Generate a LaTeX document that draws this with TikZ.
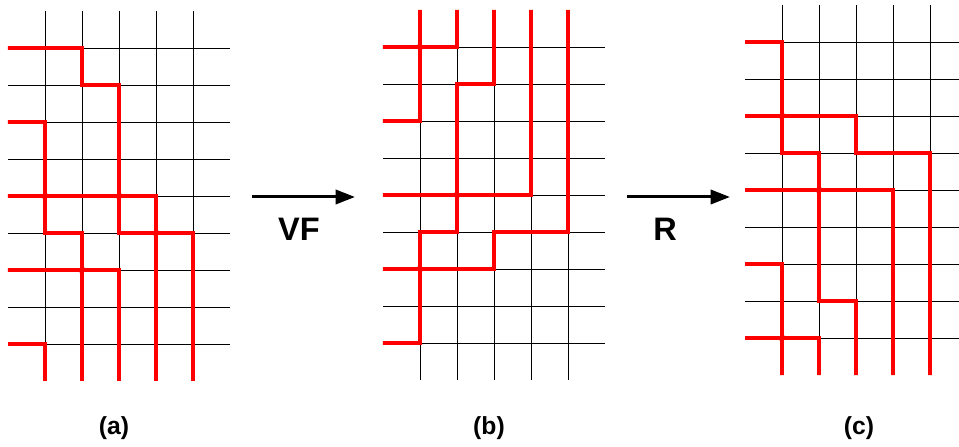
\documentclass[tikz,border=0pt]{standalone}
\usepackage{fontspec}
\setsansfont{Liberation Sans}
\usetikzlibrary{arrows.meta}
\tikzset{
  gridline/.style={black,line width=0.6pt},
  pipe/.style={red,line width=3pt},
  opname/.style={font=\fontsize{25}{28}\selectfont\sffamily\bfseries},
  panelname/.style={font=\fontsize{19}{22}\selectfont\sffamily\bfseries},
  flow/.style={-{Triangle[length=15pt,width=11pt]},line width=2.3pt}
}
\begin{document}
\begin{tikzpicture}
  \useasboundingbox (0,0) rectangle (25.919,-12.054);
  % (a)
  \begin{scope}[shift={(0.216,-0.297)}]
    \foreach \c in {1,...,5} \draw[gridline] (\c,0) -- (\c,-10);
    \foreach \r in {1,...,9} \draw[gridline] (0,-\r) -- (6,-\r);
    \draw[pipe] (0,-1) -- (2,-1) -- (2,-2) -- (3,-2) -- (3,-4.87) .. controls (3,-5) .. (3.13,-5) -- (4,-5) -- (4,-5.87) .. controls (4,-6) .. (4.13,-6) -- (5,-6) -- (5,-10);
    \draw[pipe] (0,-3) -- (1,-3) -- (1,-4.87) .. controls (1,-5) .. (1.13,-5) -- (2.87,-5) .. controls (3,-5) .. (3,-5.13) -- (3,-6) -- (3.87,-6) .. controls (4,-6) .. (4,-6.13) -- (4,-10);
    \draw[pipe] (0,-5) -- (0.87,-5) .. controls (1,-5) .. (1,-5.13) -- (1,-6) -- (2,-6) -- (2,-6.87) .. controls (2,-7) .. (2.13,-7) -- (3,-7) -- (3,-10);
    \draw[pipe] (0,-7) -- (1.87,-7) .. controls (2,-7) .. (2,-7.13) -- (2,-10);
    \draw[pipe] (0,-9) -- (1,-9) -- (1,-10);
  \end{scope}
  % (b)
  \begin{scope}[shift={(10.351,-0.270)}]
    \foreach \c in {1,...,5} \draw[gridline] (\c,0) -- (\c,-10);
    \foreach \r in {1,...,9} \draw[gridline] (0,-\r) -- (6,-\r);
    \draw[pipe] (0,-1) -- (0.87,-1) .. controls (1,-1) .. (1,-0.87) -- (1,0);
    \draw[pipe] (0,-3) -- (1,-3) -- (1,-1.13) .. controls (1,-1) .. (1.13,-1) -- (2,-1) -- (2,0);
    \draw[pipe] (0,-5) -- (1.87,-5) .. controls (2,-5) .. (2,-4.87) -- (2,-2) -- (3,-2) -- (3,0);
    \draw[pipe] (0,-7) -- (0.87,-7) .. controls (1,-7) .. (1,-6.87) -- (1,-6) -- (2,-6) -- (2,-5.13) .. controls (2,-5) .. (2.13,-5) -- (4,-5) -- (4,0);
    \draw[pipe] (0,-9) -- (1,-9) -- (1,-7.13) .. controls (1,-7) .. (1.13,-7) -- (3,-7) -- (3,-6) -- (5,-6) -- (5,0);
  \end{scope}
  % (c)
  \begin{scope}[shift={(20.135,-0.135)}]
    \foreach \c in {1,...,5} \draw[gridline] (\c,0) -- (\c,-10);
    \foreach \r in {1,...,9} \draw[gridline] (0,-\r) -- (6,-\r);
    \draw[pipe] (0,-1) -- (1,-1) -- (1,-2.87) .. controls (1,-3) .. (1.13,-3) -- (3,-3) -- (3,-4) -- (5,-4) -- (5,-10);
    \draw[pipe] (0,-3) -- (0.87,-3) .. controls (1,-3) .. (1,-3.13) -- (1,-4) -- (2,-4) -- (2,-4.87) .. controls (2,-5) .. (2.13,-5) -- (4,-5) -- (4,-10);
    \draw[pipe] (0,-5) -- (1.87,-5) .. controls (2,-5) .. (2,-5.13) -- (2,-8) -- (3,-8) -- (3,-10);
    \draw[pipe] (0,-7) -- (1,-7) -- (1,-8.87) .. controls (1,-9) .. (1.13,-9) -- (2,-9) -- (2,-10);
    \draw[pipe] (0,-9) -- (0.87,-9) .. controls (1,-9) .. (1,-9.13) -- (1,-10);
  \end{scope}
  \coordinate (vfs) at (6.811,-5.324);
  \coordinate (vfe) at (9.595,-5.324);
  \coordinate (rs) at (16.946,-5.324);
  \coordinate (re) at (19.730,-5.324);
  \draw[flow] (vfs) -- (vfe);
  \draw[flow] (rs) -- (re);
  \node[opname] (vf) at (8.081,-6.189) {VF};
  \node[opname] (r) at (17.973,-6.189) {R};
  \node[panelname] (la) at (3.081,-11.568) {(a)};
  \node[panelname] (lb) at (13.216,-11.568) {(b)};
  \node[panelname] (lc) at (23.216,-11.568) {(c)};
\end{tikzpicture}
\end{document}
